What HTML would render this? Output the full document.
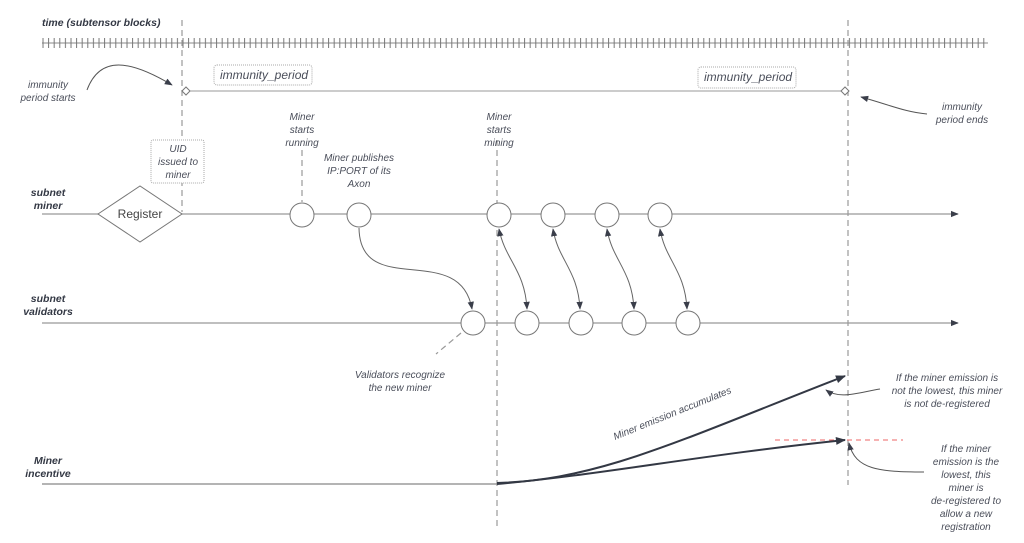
<!DOCTYPE html>
<html><head><meta charset="utf-8"><style>
html,body{margin:0;padding:0;background:#fff;}
svg{display:block;font-family:"Liberation Sans",sans-serif;}
.t{font-style:italic;fill:#4a4e5a;font-size:10px;}
.b{font-style:italic;font-weight:bold;fill:#333844;font-size:10.5px;}
</style></head><body>
<svg width="1024" height="543" viewBox="0 0 1024 543" xmlns="http://www.w3.org/2000/svg">
<defs>
<marker id="a" viewBox="0 0 10 10" refX="9" refY="5" markerWidth="8" markerHeight="8" markerUnits="userSpaceOnUse" orient="auto-start-reverse"><path d="M0,1 L10,5 L0,9 z" fill="#3a3e4a"/></marker>
<marker id="c" viewBox="0 0 10 10" refX="9" refY="5" markerWidth="12" markerHeight="10" markerUnits="userSpaceOnUse" orient="auto"><path d="M0,1 L10,5 L0,9 z" fill="#333844"/></marker>
<pattern id="tk" x="42" y="0" width="5.6" height="543" patternUnits="userSpaceOnUse"><line x1="1" y1="38" x2="1" y2="48" stroke="#777" stroke-width="1"/></pattern>
</defs>
<text x="42" y="26" class="b">time (subtensor blocks)</text>
<line x1="42" y1="43" x2="988" y2="43" stroke="#888" stroke-width="1"/>
<rect x="42" y="37" width="946" height="12" fill="url(#tk)"/>
<g stroke="#999" stroke-width="1.2" stroke-dasharray="6,4">
<line x1="182" y1="20" x2="182" y2="212"/>
<line x1="497" y1="140" x2="497" y2="526"/>
<line x1="848" y1="20" x2="848" y2="485"/>
<line x1="302" y1="150" x2="302" y2="202"/>
<line x1="461" y1="333" x2="436" y2="354"/>
</g>
<line x1="186" y1="91" x2="842" y2="91" stroke="#999" stroke-width="1"/>
<path d="M182,91 l4,-4 l4,4 l-4,4z" fill="#fff" stroke="#777"/>
<path d="M841,91 l4,-4 l4,4 l-4,4z" fill="#fff" stroke="#777"/>
<rect x="214" y="65" width="98" height="20" rx="3" fill="#fff" stroke="#aaa" stroke-dasharray="1,1"/>
<text x="220" y="79" class="t" style="font-size:12px">immunity_period</text>
<rect x="698" y="67" width="98" height="21" rx="3" fill="#fff" stroke="#aaa" stroke-dasharray="1,1"/>
<text x="704" y="81" class="t" style="font-size:12px">immunity_period</text>
<text class="t" text-anchor="middle"><tspan x="48" y="88">immunity</tspan><tspan x="48" dy="13">period starts</tspan></text>
<path d="M87,90 C100,55 130,60 172,85" fill="none" stroke="#555" marker-end="url(#a)"/>
<text class="t" text-anchor="middle"><tspan x="962" y="110">immunity</tspan><tspan x="962" dy="13">period ends</tspan></text>
<path d="M927,114 C905,112 890,105 861,97" fill="none" stroke="#555" marker-end="url(#a)"/>
<rect x="151" y="140" width="53" height="43" rx="2" fill="#fff" stroke="#aaa" stroke-dasharray="1,1"/>
<text class="t" text-anchor="middle"><tspan x="178" y="152">UID</tspan><tspan x="178" dy="13">issued to</tspan><tspan x="178" dy="13">miner</tspan></text>
<text class="t" text-anchor="middle"><tspan x="302" y="120">Miner</tspan><tspan x="302" dy="13">starts</tspan><tspan x="302" dy="13">running</tspan></text>
<text class="t" text-anchor="middle"><tspan x="359" y="161">Miner publishes</tspan><tspan x="359" dy="13">IP:PORT of its</tspan><tspan x="359" dy="13">Axon</tspan></text>
<text class="t" text-anchor="middle"><tspan x="499" y="120">Miner</tspan><tspan x="499" dy="13">starts</tspan><tspan x="499" dy="13">mining</tspan></text>
<text class="b" text-anchor="middle"><tspan x="48" y="196">subnet</tspan><tspan x="48" dy="13">miner</tspan></text>
<line x1="42" y1="214" x2="958" y2="214" stroke="#999" stroke-width="1.2" marker-end="url(#a)"/>
<path d="M98,214 L140,186 L182,214 L140,242 z" fill="#fff" stroke="#777"/>
<text x="140" y="218" text-anchor="middle" style="font-size:12px;fill:#444">Register</text>
<g fill="#fff" stroke="#777">
<circle cx="302" cy="215" r="12"/><circle cx="359" cy="215" r="12"/><circle cx="499" cy="215" r="12"/>
<circle cx="553" cy="215" r="12"/><circle cx="607" cy="215" r="12"/><circle cx="660" cy="215" r="12"/>
</g>
<text class="b" text-anchor="middle"><tspan x="48" y="302">subnet</tspan><tspan x="48" dy="13">validators</tspan></text>
<line x1="42" y1="323" x2="958" y2="323" stroke="#999" stroke-width="1.2" marker-end="url(#a)"/>
<g fill="#fff" stroke="#777">
<circle cx="473" cy="323" r="12"/><circle cx="527" cy="323" r="12"/><circle cx="581" cy="323" r="12"/>
<circle cx="634" cy="323" r="12"/><circle cx="688" cy="323" r="12"/>
</g>
<g fill="none" stroke="#666" stroke-width="1">
<path d="M359,228 C360,300 460,240 472,309" marker-end="url(#a)"/>
<path d="M499,229 C505,260 525,270 527,309" marker-start="url(#a)" marker-end="url(#a)"/>
<path d="M553,229 C558,260 578,270 580,309" marker-start="url(#a)" marker-end="url(#a)"/>
<path d="M607,229 C612,260 632,270 634,309" marker-start="url(#a)" marker-end="url(#a)"/>
<path d="M660,229 C665,260 685,270 687,309" marker-start="url(#a)" marker-end="url(#a)"/>
</g>
<text class="t" text-anchor="middle"><tspan x="400" y="378">Validators recognize</tspan><tspan x="400" dy="13">the new miner</tspan></text>
<text class="b" text-anchor="middle"><tspan x="48" y="464">Miner</tspan><tspan x="48" dy="13">incentive</tspan></text>
<line x1="42" y1="484" x2="497" y2="484" stroke="#888" stroke-width="1.2"/>
<line x1="775" y1="440" x2="903" y2="440" stroke="#e66" stroke-width="1" stroke-dasharray="5,4"/>
<path d="M497,483 C600,480 680,440 845,376" fill="none" stroke="#333844" stroke-width="2" marker-end="url(#c)"/>
<path d="M497,484 C600,475 700,455 845,440" fill="none" stroke="#333844" stroke-width="2" marker-end="url(#c)"/>
<text x="615" y="440" class="t" transform="rotate(-22 615 440)">Miner emission accumulates</text>
<path d="M880,389 C860,392 840,400 826,390" fill="none" stroke="#555" marker-end="url(#a)"/>
<text class="t" text-anchor="middle"><tspan x="947" y="381">If the miner emission is</tspan><tspan x="947" dy="13">not the lowest, this miner</tspan><tspan x="947" dy="13">is not de-registered</tspan></text>
<path d="M924,472 C880,472 855,470 849,443" fill="none" stroke="#555" marker-end="url(#a)"/>
<text class="t" text-anchor="middle"><tspan x="966" y="452">If the miner</tspan><tspan x="966" dy="13">emission is the</tspan><tspan x="966" dy="13">lowest, this</tspan><tspan x="966" dy="13">miner is</tspan><tspan x="966" dy="13">de-registered to</tspan><tspan x="966" dy="13">allow a new</tspan><tspan x="966" dy="13">registration</tspan></text>
</svg>
</body></html>
